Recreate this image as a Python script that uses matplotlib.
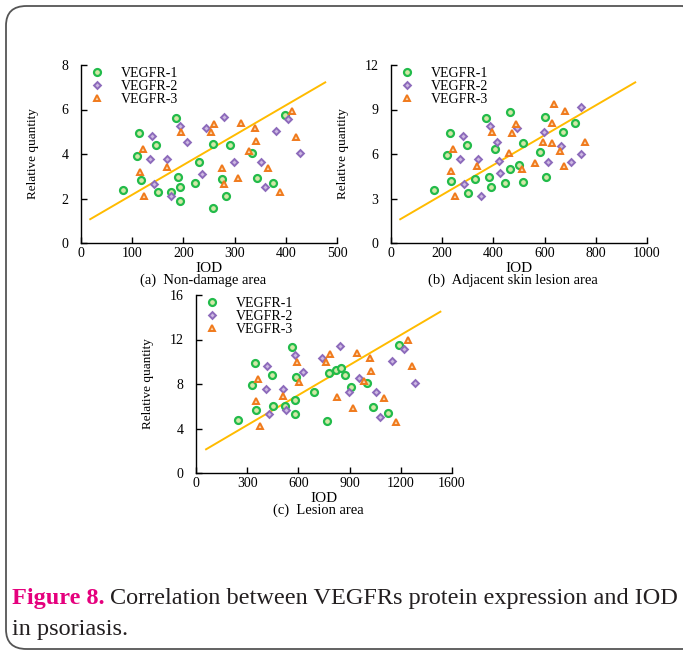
import matplotlib
matplotlib.use("Agg")
import matplotlib.pyplot as plt
from matplotlib.patches import FancyBboxPatch

plt.rcParams['font.family'] = ['Liberation Serif', 'DejaVu Serif']

# ---------------- Data ----------------
# Panel (a) Non-damage area
a_v1_x = [83, 113, 109, 117, 147, 150, 175, 186, 190, 194, 194, 222, 230, 258, 257, 275, 283, 291, 334, 344, 375, 398]
a_v1_y = [2.39, 4.95, 3.93, 2.81, 4.40, 2.27, 2.27, 5.63, 2.97, 2.51, 1.89, 2.69, 3.63, 4.47, 1.58, 2.87, 2.10, 4.40, 4.04, 2.94, 2.69, 5.74]
a_v2_x = [139, 135, 142, 168, 175, 194, 208, 237, 245, 280, 298, 351, 360, 381, 405, 427]
a_v2_y = [4.79, 3.77, 2.67, 3.77, 2.10, 5.27, 4.52, 3.08, 5.17, 5.68, 3.65, 3.63, 2.51, 5.03, 5.56, 4.04]
a_v3_x = [121, 115, 124, 167, 196, 253, 260, 275, 280, 306, 313, 328, 339, 342, 366, 389, 413, 420]
a_v3_y = [4.23, 3.21, 2.09, 3.42, 4.98, 4.97, 5.33, 3.39, 2.67, 2.94, 5.38, 4.14, 5.15, 4.58, 3.35, 2.28, 5.95, 4.77]
a_fit_x = [18, 477]
a_fit_y = [1.07, 7.22]

# Panel (b) Adjacent skin lesion area
b_v1_x = [167, 220, 229, 236, 297, 302, 330, 372, 381, 390, 407, 446, 463, 465, 499, 516, 514, 581, 601, 606, 671, 720]
b_v1_y = [3.58, 5.90, 7.41, 4.21, 6.60, 3.40, 4.32, 8.44, 4.46, 3.76, 6.35, 4.03, 8.85, 5.00, 5.27, 6.71, 4.12, 6.15, 8.49, 4.48, 7.45, 8.08]
b_v2_x = [280, 271, 285, 338, 352, 387, 416, 422, 424, 491, 597, 613, 665, 704, 742, 742]
b_v2_y = [7.18, 5.65, 4.01, 5.65, 3.15, 7.90, 6.78, 5.54, 4.73, 7.74, 7.45, 5.47, 6.51, 5.45, 6.03, 9.14]
b_v3_x = [242, 233, 249, 336, 395, 488, 471, 460, 511, 561, 594, 635, 628, 628, 660, 678, 675, 756]
b_v3_y = [6.37, 4.84, 3.15, 5.18, 7.47, 8.01, 7.43, 6.06, 4.98, 5.36, 6.84, 9.37, 8.06, 6.75, 6.21, 8.89, 5.18, 6.78]
b_fit_x = [36, 954]
b_fit_y = [1.60, 10.83]

# Panel (c) Lesion area
c_v1_x = [248, 330, 344, 353, 445, 449, 523, 560, 580, 584, 580, 689, 769, 777, 822, 852, 875, 910, 1002, 1035, 1125, 1191]
c_v1_y = [4.80, 7.90, 9.91, 5.64, 8.80, 6.06, 6.03, 11.29, 6.57, 8.59, 5.31, 7.27, 4.65, 8.95, 9.25, 9.43, 8.83, 7.72, 8.11, 5.91, 5.37, 11.50]
c_v2_x = [408, 418, 430, 508, 525, 582, 627, 738, 842, 896, 957, 1055, 1078, 1148, 1217, 1285]
c_v2_y = [7.57, 9.58, 5.34, 7.57, 5.70, 10.57, 9.07, 10.36, 11.38, 7.30, 8.50, 7.27, 5.01, 10.06, 11.11, 8.08]
c_v3_x = [361, 352, 373, 508, 592, 602, 760, 785, 826, 920, 943, 986, 1020, 1025, 1104, 1172, 1240, 1264]
c_v3_y = [8.47, 6.45, 4.20, 6.90, 10.0, 8.17, 9.94, 10.69, 6.84, 5.88, 10.81, 8.29, 10.33, 9.16, 6.72, 4.62, 11.92, 9.58]
c_fit_x = [59, 1432]
c_fit_y = [2.13, 14.5]

series_labels = ['VEGFR-1', 'VEGFR-2', 'VEGFR-3']

a_xticks = [0, 100, 200, 300, 400, 500]
a_yticks = [0, 2, 4, 6, 8]
b_xticks = [0, 200, 400, 600, 800, 1000]
b_yticks = [0, 3, 6, 9, 12]
c_xticks = [0, 300, 600, 900, 1200, 1500]
c_xticklabels = ['0', '300', '600', '900', '1200', '1600']
c_yticks = [0, 4, 8, 12, 16]

# ---------------- Styles ----------------
styles = [
    dict(marker='o', ms=5.0, mfc='#d3e8a8', mec='#22bb4a', mew=1.6),
    dict(marker='D', ms=3.5, mfc='#cdb8e2', mec='#8d6bbb', mew=1.4),
    dict(marker='^', ms=5.0, mfc='#f8d6ae', mec='#f07a1c', mew=1.4),
]
FIT_COLOR = '#ffbb00'

W, H = 683, 653
AXW, AXH = 256, 178
fig = plt.figure(figsize=(W / 100, H / 100), dpi=100)

# Rounded border
border = FancyBboxPatch((6 / W, 4 / H), (W + 20 - 6) / W, (H - 10) / H,
                        boxstyle="round,pad=0,rounding_size=0.03",
                        transform=fig.transFigure, fill=False,
                        edgecolor='#555555', linewidth=1.3, clip_on=False)
fig.patches.append(border)


def make_panel(rect, xs, ys, fit_x, fit_y, xticks, yticks, xlim, ylim, caption,
               xticklabels=None):
    ax = fig.add_axes(rect)
    for x, y, st, lab in zip(xs, ys, styles, series_labels):
        ax.plot(x, y, linestyle='none', label=lab, **st)
    ax.plot(fit_x, fit_y, color=FIT_COLOR, lw=1.4, zorder=1)
    ax.set_xlim(*xlim)
    ax.set_ylim(*ylim)
    ax.set_xticks(xticks)
    if xticklabels is not None:
        ax.set_xticklabels(xticklabels)
    ax.set_yticks(yticks)
    for s in ['top', 'right']:
        ax.spines[s].set_visible(False)
    for s in ['left', 'bottom']:
        ax.spines[s].set_linewidth(1.0)
    ax.tick_params(direction='in', length=4, width=1.0, labelsize=10)
    ax.tick_params(axis='x', pad=3)
    ax.tick_params(axis='y', pad=9)
    ax.set_xlabel('IOD', fontsize=11, labelpad=1)
    ax.set_ylabel('Relative quantity', fontsize=9.5)
    ax.yaxis.set_label_coords(-42 / AXW, 0.5)
    ax.text(0.5 - 6 / AXW, -0.208, caption, transform=ax.transAxes,
            ha='center', va='center', fontsize=10.5)
    ax.legend(loc='upper left', bbox_to_anchor=(0.0, 1.03), frameon=False,
              fontsize=10, handletextpad=1.1, labelspacing=0.02, borderpad=0.2,
              handlelength=1.3, borderaxespad=0.3)
    return ax


make_panel([81 / W, 1 - 243 / H, AXW / W, AXH / H],
           [a_v1_x, a_v2_x, a_v3_x], [a_v1_y, a_v2_y, a_v3_y],
           a_fit_x, a_fit_y, a_xticks, a_yticks, (0, 500), (0, 8),
           '(a)  Non-damage area')
make_panel([391 / W, 1 - 243 / H, AXW / W, AXH / H],
           [b_v1_x, b_v2_x, b_v3_x], [b_v1_y, b_v2_y, b_v3_y],
           b_fit_x, b_fit_y, b_xticks, b_yticks, (0, 1000), (0, 12),
           '(b)  Adjacent skin lesion area')
make_panel([196 / W, 1 - 473 / H, AXW / W, AXH / H],
           [c_v1_x, c_v2_x, c_v3_x], [c_v1_y, c_v2_y, c_v3_y],
           c_fit_x, c_fit_y, c_xticks, c_yticks, (0, 1500), (0, 16),
           '(c)  Lesion area', xticklabels=c_xticklabels)

# Caption
t1 = fig.text(12 / W, 1 - 604 / H, 'Figure 8.', color='#e5007d', fontsize=17.5,
              fontweight='bold', ha='left', va='baseline')
fig.canvas.draw()
bb = t1.get_window_extent()
fig.text(bb.x1 / W + 5 / W, 1 - 604 / H,
         'Correlation between VEGFRs protein expression and IOD',
         color='#231f20', fontsize=17.5, ha='left', va='baseline')
fig.text(12 / W, 1 - 635 / H, 'in psoriasis.', color='#231f20', fontsize=17.5,
         ha='left', va='baseline')

fig.savefig('out.png', dpi=100)
